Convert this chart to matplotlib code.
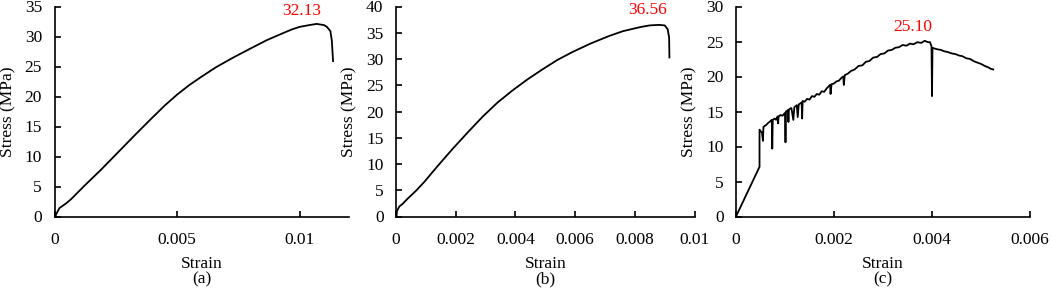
import matplotlib
matplotlib.use("Agg")
import matplotlib.pyplot as plt

plt.rcParams['font.family'] = ['Liberation Serif', 'DejaVu Serif']

# ---- data (a) ----
strain_a = [0.00004, 0.00007, 0.00020, 0.00048, 0.00068, 0.00102, 0.00129, 0.0019, 0.00257, 0.00324,
            0.0039, 0.0045, 0.0050, 0.0055, 0.0060, 0.0066, 0.0073, 0.0080, 0.00867, 0.00935,
            0.0097, 0.0100, 0.0104, 0.0107, 0.0110, 0.01112, 0.01126, 0.01132, 0.01137]
stress_a = [0.0, 0.4, 1.4, 2.2, 2.9, 4.3, 5.4, 7.8, 10.6, 13.4,
            16.1, 18.5, 20.3, 21.9, 23.3, 24.9, 26.5, 28.0, 29.4, 30.6,
            31.2, 31.6, 31.9, 32.1, 31.9, 31.6, 30.9, 29.3, 25.9]

# ---- data (b) ----
strain_b = [0.00002, 0.00003, 0.00011, 0.00022, 0.00039, 0.00067, 0.00095, 0.0012, 0.0015, 0.0019,
            0.0024, 0.0029, 0.0034, 0.0039, 0.0044, 0.0049, 0.0054, 0.0059, 0.0065, 0.0071,
            0.0076, 0.0082, 0.0085, 0.0088, 0.0090, 0.0091, 0.00915, 0.00916]
stress_b = [0.0, 1.0, 1.9, 2.4, 3.4, 4.9, 6.6, 8.3, 10.3, 12.9,
            16.0, 19.0, 21.7, 24.0, 26.1, 28.0, 29.8, 31.3, 32.9, 34.3,
            35.3, 36.1, 36.4, 36.5, 36.4, 35.7, 34.1, 30.3]

# ---- data (c) ----
strain_c = [0.0, 0.00048, 0.00048, 0.00050, 0.00053, 0.00055, 0.00056, 0.00058, 0.00062, 0.00066,
            0.00070, 0.00073, 0.00074, 0.00075, 0.00079, 0.00082, 0.00085, 0.00086, 0.00087, 0.00091,
            0.00095, 0.00100, 0.00101, 0.00102, 0.00106, 0.00107, 0.00108, 0.00113, 0.00117, 0.00119,
            0.00124, 0.00126, 0.00128, 0.00134, 0.00135, 0.00136, 0.00140, 0.00145, 0.00150, 0.00155,
            0.00160, 0.00165, 0.00170, 0.00175, 0.00180, 0.00185, 0.00192, 0.00193, 0.00195, 0.00200,
            0.00205, 0.00210, 0.00215, 0.00219, 0.00220, 0.00222, 0.00228, 0.00235, 0.00242, 0.00250,
            0.00258, 0.00265, 0.00272, 0.00280, 0.00288, 0.00295, 0.00303, 0.00310, 0.00318, 0.00325,
            0.00333, 0.00340, 0.00348, 0.00355, 0.00362, 0.00370, 0.00378, 0.00385, 0.00392, 0.00396,
            0.00399, 0.00400, 0.00401, 0.00405, 0.00410, 0.00418, 0.00425, 0.00432, 0.00440, 0.00448,
            0.00455, 0.00462, 0.00470, 0.00478, 0.00485, 0.00492, 0.00500, 0.00508, 0.00515, 0.00520,
            0.00525]
stress_c = [0.0, 7.1, 12.4, 12.2, 12.0, 10.8, 12.8, 12.9, 13.1, 13.4,
            13.6, 13.8, 9.7, 13.8, 14.0, 13.8, 14.3, 13.3, 14.3, 14.5,
            14.4, 14.8, 10.6, 15.0, 15.2, 13.5, 15.3, 15.5, 13.8, 15.6,
            15.9, 14.2, 16.0, 16.3, 14.0, 16.5, 16.4, 16.8, 16.7, 17.2,
            17.1, 17.5, 17.4, 17.9, 17.8, 18.3, 18.8, 17.5, 18.9, 19.0,
            19.3, 19.4, 19.8, 20.0, 18.8, 20.2, 20.4, 20.8, 21.0, 21.5,
            21.6, 22.1, 22.2, 22.7, 22.8, 23.2, 23.3, 23.7, 23.8, 24.1,
            24.2, 24.5, 24.4, 24.7, 24.6, 24.9, 24.8, 25.1, 24.9, 24.9,
            24.3, 17.2, 24.1, 24.0, 23.9, 23.8, 23.6, 23.5, 23.3, 23.2,
            23.0, 22.9, 22.6, 22.5, 22.2, 22.0, 21.8, 21.5, 21.3, 21.1,
            21.0]

peak_labels = ["32.13", "36.56", "25.10"]
peak_pos = [(0.01010, 34.3), (0.00842, 39.3), (0.00361, 27.1)]
panel_tags = ["(a)", "(b)", "(c)"]
xticks_list = [[0, 0.005, 0.01], [0, 0.002, 0.004, 0.006, 0.008, 0.01], [0, 0.002, 0.004, 0.006]]
xticklabels_list = [["0", "0.005", "0.01"], ["0", "0.002", "0.004", "0.006", "0.008", "0.01"],
                    ["0", "0.002", "0.004", "0.006"]]
xlims = [0.012, 0.01, 0.006]
yticks_list = [list(range(0, 36, 5)), list(range(0, 41, 5)), list(range(0, 31, 5))]
ylims = [35, 40, 30]

W, H = 1052, 295
fig = plt.figure(figsize=(W / 100, H / 100), dpi=100)

boxes = [(54.5, 348.5), (396, 694.5), (736, 1030)]
top_px, bot_px = 6.5, 216.5

data = [(strain_a, stress_a), (strain_b, stress_b), (strain_c, stress_c)]

for i, ((l, r), (sx, sy)) in enumerate(zip(boxes, data)):
    ax = fig.add_axes([l / W, (H - bot_px) / H, (r - l) / W, (bot_px - top_px) / H])
    ax.plot(sx, sy, color='black', lw=1.3)
    ax.set_xlim(0, xlims[i])
    ax.set_ylim(0, ylims[i])
    ax.set_xticks(xticks_list[i])
    ax.set_xticklabels(xticklabels_list[i])
    ax.set_yticks(yticks_list[i])
    for s in ['top', 'right']:
        ax.spines[s].set_visible(False)
    for s in ['left', 'bottom']:
        ax.spines[s].set_linewidth(1.2)
    ax.tick_params(axis='x', direction='in', length=4, width=1.2, pad=11, labelsize=12.5)
    ax.tick_params(axis='y', direction='in', length=4, width=1.2, pad=9, labelsize=12.5)
    ax.set_xlabel("Strain", fontsize=12.5, labelpad=6)
    ax.set_ylabel("Stress (MPa)", fontsize=12.5, labelpad=6)
    ax.text(peak_pos[i][0], peak_pos[i][1], peak_labels[i], color='red', fontsize=12.5,
            ha='center', va='center', clip_on=False)
    ax.text(0.5, -0.30, panel_tags[i], transform=ax.transAxes, ha='center', va='center', fontsize=12.5)

fig.savefig("out.png", dpi=100)
